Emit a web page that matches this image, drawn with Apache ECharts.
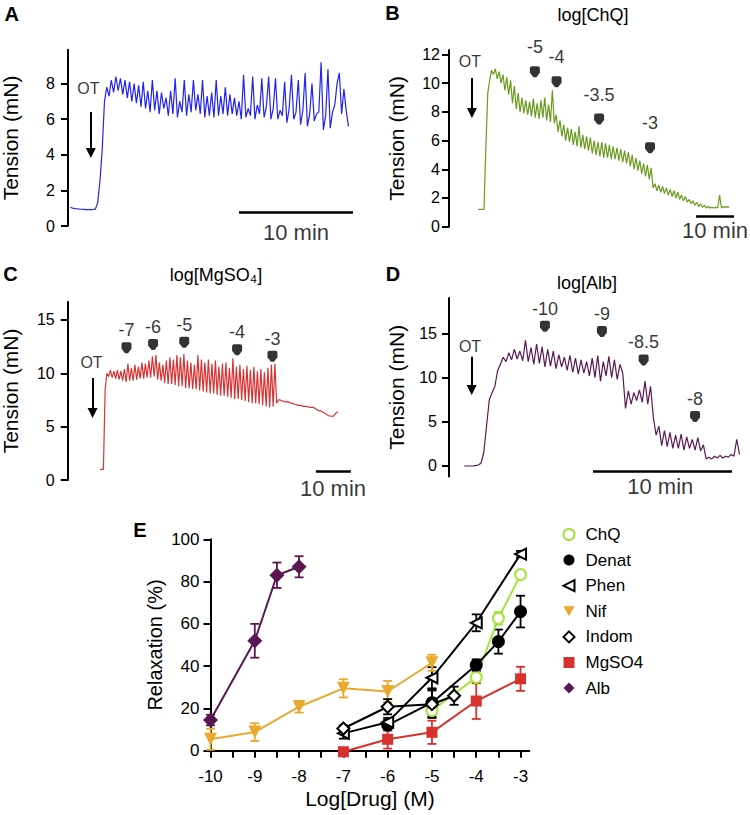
<!DOCTYPE html>
<html><head><meta charset="utf-8">
<script src="https://cdn.jsdelivr.net/npm/echarts@6/dist/echarts.min.js"></script>
<style>html,body{margin:0;padding:0;background:#fff}#c{width:750px;height:815px}</style>
</head><body><div id="c"></div>
<script>
// ---------- Panel traces (tension in mN, uniform time step in min) ----------
const stepA = 0.2;
const tensionA = [1.05,1.0,0.98,0.97,0.95,0.94,0.93,0.92,0.92,0.92,0.93,0.95,1.3,2.5,4.3,7.0,7.8,7.3,8.2,7.5,8.4,7.6,8.3,7.4,8.2,7.2,8.1,7.0,8.0,6.9,7.9,6.7,8.1,6.6,7.6,6.4,8.2,6.5,7.6,6.3,7.5,6.6,7.2,6.2,7.6,6.3,8.3,6.1,7.0,6.4,8.2,6.2,7.4,6.4,8.2,6.5,7.4,6.3,8.2,6.1,7.3,6.2,7.5,6.1,8.2,6.2,7.3,6.3,7.8,6.2,7.4,6.3,7.2,6.2,7.0,6.0,8.5,6.1,6.6,6.2,8.4,6.0,6.8,6.3,8.3,6.1,6.7,8.4,6.0,6.6,8.3,6.0,6.5,6.2,8.1,5.8,6.6,8.5,6.0,6.4,8.2,5.7,6.5,8.6,5.6,6.3,8.0,5.9,6.3,6.4,9.2,5.4,6.2,8.8,5.5,6.4,6.8,8.0,8.6,6.3,7.7,6.5,5.6];

const stepB = 0.5;
const tensionB = [1.2,1.2,1.2,1.2,5.5,9.3,10.2,10.9,10.6,11.0,10.3,10.8,10.0,10.6,9.5,10.4,9.2,10.2,8.6,9.8,8.2,9.3,8.0,9.0,7.9,8.8,7.8,8.7,7.7,8.9,7.6,8.6,7.5,8.8,7.6,9.0,7.4,8.5,7.3,9.5,7.2,7.8,6.6,7.4,6.3,7.1,6.0,6.9,5.9,6.8,5.7,6.6,5.6,7.0,5.5,6.4,5.4,6.3,5.3,6.2,5.1,6.0,5.0,5.9,4.9,5.9,4.8,5.8,4.8,5.7,4.7,5.6,4.7,5.5,4.6,5.4,4.5,5.3,4.4,5.2,4.2,5.0,4.0,4.8,3.9,4.6,3.7,4.4,3.5,4.3,3.3,4.1,2.7,3.0,2.5,2.9,2.4,2.8,2.3,2.7,2.2,2.6,2.1,2.5,2.0,2.4,1.9,2.2,1.8,2.1,1.7,1.9,1.6,1.8,1.5,1.7,1.4,1.6,1.35,1.5,1.3,1.4,1.3,1.35,1.3,1.35,1.3,2.2,1.3,1.4,1.35,1.4,1.35];

const stepC = 0.5;
const tensionC = [1.0,1.0,1.0,8.5,10.0,9.7,10.3,9.6,10.2,9.5,10.3,9.4,10.2,9.3,10.4,9.2,10.9,9.3,10.5,9.3,10.8,9.4,10.6,9.5,11.0,9.5,10.9,9.6,11.2,9.6,11.6,9.7,11.7,9.4,11.0,9.3,10.8,9.1,11.2,9.0,11.5,9.0,11.3,8.9,11.7,8.8,11.5,8.8,11.8,8.6,11.2,8.6,11.0,8.5,10.8,8.5,11.7,8.4,11.3,8.3,11.0,8.2,11.3,8.1,10.9,8.1,11.2,8.0,10.6,7.9,10.9,7.9,11.0,7.8,10.5,7.7,11.4,7.6,10.6,7.6,10.8,7.5,10.4,7.4,10.7,7.3,10.3,7.2,10.6,7.2,10.2,7.1,10.4,7.0,10.1,6.9,10.5,6.8,10.8,6.9,10.9,7.2,7.5,7.5,7.4,7.4,7.3,7.35,7.3,7.2,7.2,7.1,7.1,7.0,7.0,7.0,6.9,6.9,6.9,6.85,6.8,6.8,6.8,6.7,6.6,6.5,6.5,6.4,6.3,6.2,6.1,6.0,6.0,5.95,6.1,6.3,6.4];

const stepD = 0.2;
const tensionD = [0,0,0,0,0.05,0.1,0.3,1.5,4.5,7.5,8.3,9.0,10.8,11.5,12.3,11.8,12.8,12.0,13.2,12.1,13.0,11.9,14.2,11.8,13.4,11.5,13.8,11.6,13.5,11.2,13.2,11.3,13.0,11.0,12.6,11.2,12.3,10.8,12.5,10.6,12.2,10.4,12.0,10.5,11.8,10.2,12.2,10.0,12.5,9.6,11.8,10.2,12.4,10.0,12.0,9.8,11.5,10.5,6.5,8.5,7.0,8.3,7.4,8.6,7.2,9.6,7.0,9.0,5.5,3.5,4.5,2.3,4.0,2.2,3.8,2.0,3.5,2.0,3.6,1.8,3.3,2.0,3.0,1.8,3.2,1.7,2.4,0.8,1.0,0.8,1.1,0.9,1.2,0.9,1.1,1.0,1.3,1.1,3.0,1.3];

// ---------- Drug additions (log concentration labels, time in min, tension level) ----------
const concB = ['-5','-4','-3.5','-3'];
const timeB = [14.9,20.6,31.8,45.2];
const levelB = [10.8,10.1,7.5,5.5];
const concC = ['-7','-6','-5','-4','-3'];
const timeC = [7.6,15.2,24.1,39.2,49.3];
const levelC = [12.4,12.7,12.9,12.2,11.6];
const concD = ['-10','-9','-8.5','-8'];
const timeD = [5.8,9.9,12.9,16.6];
const levelD = [15.8,15.2,12.0,5.6];

// OT arrow: [time, from level, to level]; OT text [time, level]
const otArrowA = [1.8, 6.4, 4.1],  otTextA = [1.58, 7.7];
const otArrowB = [-1.66, 10.35, 7.92], otTextB = [-2.2, 11.5];
const otArrowC = [-2.1, 9.56, 6.28], otTextC = [-2.4, 11.0];
const otArrowD = [0.53, 12.36, 8.6], otTextD = [0.41, 13.5];
// 10-min scale bars: [start time, level]; label [time, level]
const barA = [14.8, 0.79], barTextA = [19.8, -0.34];
const barB = [57.3, 0.75], barTextB = [62.3, -0.23];
const barC = [61.7, 0.84], barTextC = [66.6, -0.75];
const barD = [9.26, -0.64], barTextD = [14.1, -2.34];
const barLength = 10;

// ---------- Panel E: concentration-response ----------
const xTickLabels = [-10,-9,-8,-7,-6,-5,-4,-3];
const yTickLabels = [0,20,40,60,80,100];
const chqX = [-5,-4,-3.5,-3],          chqMean = [19,34.7,62.6,83.3],          chqSem = [3.5,3,3,1.5];
const denatX = [-6,-5,-4,-3.5,-3],     denatMean = [12.1,22.7,40.5,51.6,65.8], denatSem = [2.5,6.5,2.7,5.7,7.5];
const phenX = [-7,-6,-5,-4,-3],        phenMean = [8.2,13.5,34.5,60.5,93],     phenSem = [2.5,2,5,4,1.5];
const nifX = [-10,-9,-8,-7,-6,-5],     nifMean = [5.4,8.8,20.8,29.5,28,41.6],  nifSem = [5,4.2,2.8,4.3,5,3.8];
const indomX = [-7,-6,-5,-4.5],        indomMean = [10.5,20.8,22,26],          indomSem = [1.5,3.6,6.5,4.3];
const mgX = [-7,-6,-5,-4,-3],          mgMean = [-0.5,5.4,8.7,23.5,34],        mgSem = [1,4.4,5.5,8.5,5.7];
const albX = [-10,-9,-8.5,-8],         albMean = [14.5,52,83,87],              albSem = [2.5,8,6,5];

// ---------- build ----------
const FONT = '"Liberation Sans", Arial, Helvetica, sans-serif';
const chart = echarts.init(document.getElementById('c'), null, {renderer: 'svg', width: 750, height: 815});

function trace(values, step) { return values.map((v, i) => [i * step, v]); }

function panelY(gi, min, max, ticks, gap, margin) {
  return {
    gridIndex: gi, type: 'value', min: min, max: max,
    axisLine: {show: true, onZero: false, lineStyle: {color: '#000', width: 2}},
    axisTick: {show: true, length: 7, customValues: ticks, lineStyle: {color: '#000', width: 2}},
    axisLabel: {show: true, customValues: ticks, fontSize: 16, color: '#000', margin: margin, fontFamily: FONT},
    splitLine: {show: false},
    name: 'Tension (mN)', nameLocation: 'middle', nameGap: gap,
    nameTextStyle: {fontSize: 21, color: '#000', fontFamily: FONT}
  };
}
function hiddenX(gi, min, max) {
  return {gridIndex: gi, type: 'value', min: min, max: max, show: false};
}

const traceColors = ['#2323F0', '#6A9B1E', '#D83434', '#5C1A52'];
const series = [];
[[tensionA, stepA], [tensionB, stepB], [tensionC, stepC], [tensionD, stepD]].forEach((p, i) => {
  series.push({type: 'line', xAxisIndex: i, yAxisIndex: i, data: trace(p[0], p[1]),
    symbol: 'none', showSymbol: false, lineStyle: {color: traceColors[i], width: 1.2},
    silent: true, z: 2, clip: false});
});

const markerPath = 'path://M2,0 L8,0 Q10,0 10,2 L10,6 L6.5,10 L3.5,10 L0,6 L0,2 Q0,0 2,0 Z';
[[1, concB, timeB, levelB, 10], [2, concC, timeC, levelC, 3], [3, concD, timeD, levelD, 3]].forEach(p => {
  series.push({type: 'scatter', xAxisIndex: p[0], yAxisIndex: p[0], symbol: markerPath,
    symbolSize: [10, 11], itemStyle: {color: '#000'}, silent: true, clip: false, z: 5,
    data: p[1].map((c, i) => ({name: c, value: [p[2][i], p[3][i]]})),
    label: {show: true, position: 'top', distance: p[4], formatter: '{b}', fontSize: 18, color: '#000', fontFamily: FONT}});
});

const arrows = [otArrowA, otArrowB, otArrowC, otArrowD];
const otTexts = [otTextA, otTextB, otTextC, otTextD];
const bars = [barA, barB, barC, barD];
const barTexts = [barTextA, barTextB, barTextC, barTextD];
for (let i = 0; i < 4; i++) {
  const a = arrows[i];
  series.push({type: 'lines', coordinateSystem: 'cartesian2d', xAxisIndex: i, yAxisIndex: i,
    data: [{coords: [[a[0], a[1]], [a[0], a[2]]]}], symbol: ['none', 'triangle'], symbolSize: 10,
    lineStyle: {color: '#000', width: 2, opacity: 1}, itemStyle: {color: '#000'}, silent: true, clip: false, z: 5});
  const b = bars[i];
  series.push({type: 'lines', coordinateSystem: 'cartesian2d', xAxisIndex: i, yAxisIndex: i,
    data: [{coords: [[b[0], b[1]], [b[0] + barLength, b[1]]]}], symbol: 'none',
    lineStyle: {color: '#000', width: 2.5, opacity: 1}, silent: true, clip: false, z: 5});
  series.push({type: 'scatter', xAxisIndex: i, yAxisIndex: i, symbolSize: 1, itemStyle: {color: 'rgba(0,0,0,0)'},
    silent: true, clip: false, z: 5,
    data: [
      {value: otTexts[i], label: {formatter: 'OT', fontSize: 16}},
      {value: barTexts[i], label: {formatter: '10 min', fontSize: 22}}
    ],
    label: {show: true, position: 'inside', color: '#000', fontFamily: FONT}});
}

const drugs = [
  {name: 'ChQ', x: chqX, m: chqMean, e: chqSem, color: '#A5E33B', symbol: 'emptyCircle', size: 11, rot: 0, bw: 2,
    icon: 'emptyCircle', iconStyle: null},
  {name: 'Denat', x: denatX, m: denatMean, e: denatSem, color: '#000000', symbol: 'circle', size: 13, rot: 0, bw: 0,
    icon: 'circle', iconStyle: null},
  {name: 'Phen', x: phenX, m: phenMean, e: phenSem, color: '#000000', symbol: 'emptyTriangle', size: 11, rot: 90, bw: 2,
    icon: 'path://M10,0 L10,10 L0,5 Z', iconStyle: {color: '#fff', borderColor: '#000', borderWidth: 2}},
  {name: 'Nif', x: nifX, m: nifMean, e: nifSem, color: '#E8A92E', symbol: 'triangle', size: 13, rot: 180, bw: 0,
    icon: 'path://M0,0 L10,0 L5,9 Z', iconStyle: {color: '#E8A92E', borderWidth: 0}},
  {name: 'Indom', x: indomX, m: indomMean, e: indomSem, color: '#000000', symbol: 'emptyDiamond', size: 12, rot: 0, bw: 2,
    icon: 'emptyDiamond', iconStyle: null},
  {name: 'MgSO4', x: mgX, m: mgMean, e: mgSem, color: '#D7312D', symbol: 'rect', size: 11, rot: 0, bw: 0,
    icon: 'rect', iconStyle: null},
  {name: 'Alb', x: albX, m: albMean, e: albSem, color: '#5A1650', symbol: 'diamond', size: 15, rot: 0, bw: 0,
    icon: 'diamond', iconStyle: null}
];

function errRender(params, api) {
  const x = api.value(0), lo = api.value(1), hi = api.value(2);
  const p1 = api.coord([x, hi]), p2 = api.coord([x, lo]);
  const w = 4.5;
  const style = {stroke: api.visual('color'), lineWidth: 1.8, fill: null};
  return {type: 'group', children: [
    {type: 'line', shape: {x1: p1[0], y1: p1[1], x2: p2[0], y2: p2[1]}, style: style},
    {type: 'line', shape: {x1: p1[0] - w, y1: p1[1], x2: p1[0] + w, y2: p1[1]}, style: style},
    {type: 'line', shape: {x1: p2[0] - w, y1: p2[1], x2: p2[0] + w, y2: p2[1]}, style: style}
  ]};
}

drugs.forEach(d => {
  series.push({type: 'custom', name: d.name + ' SEM', xAxisIndex: 4, yAxisIndex: 4, renderItem: errRender,
    itemStyle: {color: d.color}, silent: true, clip: false, z: 3,
    data: d.x.map((x, i) => [x, d.m[i] - d.e[i], d.m[i] + d.e[i]])});
  series.push({type: 'line', name: d.name, xAxisIndex: 4, yAxisIndex: 4,
    data: d.x.map((x, i) => [x, d.m[i]]),
    symbol: d.symbol, symbolSize: d.size, symbolRotate: d.rot, showSymbol: true,
    lineStyle: {color: d.color, width: 2}, itemStyle: {color: d.color, borderColor: d.color, borderWidth: d.bw},
    silent: true, clip: false, z: 4});
});

const option = {
  animation: false,
  textStyle: {fontFamily: FONT},
  grid: [
    {left: 68, top: 49.8, width: 287.3, height: 176.2, outerBoundsMode: 'none', containLabel: false},
    {left: 449, top: 50.1, width: 287.7, height: 176.6, outerBoundsMode: 'none', containLabel: false},
    {left: 67.7, top: 301.8, width: 284.2, height: 178.2, outerBoundsMode: 'none', containLabel: false},
    {left: 449, top: 298, width: 293.3, height: 178.6, outerBoundsMode: 'none', containLabel: false},
    {left: 210.5, top: 539.3, width: 318.9, height: 211.4, outerBoundsMode: 'none', containLabel: false}
  ],
  xAxis: [
    hiddenX(0, -0.2, 25), hiddenX(1, -7.7, 68), hiddenX(2, -9.2, 72), hiddenX(3, -1.1, 20),
    {gridIndex: 4, type: 'value', min: -10, max: -2.8,
      axisLine: {show: true, onZero: false, lineStyle: {color: '#000', width: 2}},
      axisTick: {show: true, length: 7, customValues: [-10,-9.5,-9,-8.5,-8,-7.5,-7,-6.5,-6,-5.5,-5,-4.5,-4,-3.5,-3], lineStyle: {color: '#000', width: 2}},
      axisLabel: {show: true, customValues: xTickLabels, fontSize: 17, color: '#000', margin: 17},
      splitLine: {show: false},
      name: 'Log[Drug] (M)', nameLocation: 'middle', nameGap: 37,
      nameTextStyle: {fontSize: 21, color: '#000'}}
  ],
  yAxis: [
    panelY(0, 0, 9.9, [0,2,4,6,8], 47, 13),
    panelY(1, 0, 12.3, [0,2,4,6,8,10,12], 42, 9),
    panelY(2, 0, 16.7, [0,5,10,15], 47, 13),
    panelY(3, -1.2, 19, [0,5,10,15], 42, 12),
    {gridIndex: 4, type: 'value', min: 0, max: 100,
      axisLine: {show: true, onZero: false, lineStyle: {color: '#000', width: 2}},
      axisTick: {show: true, length: 7, customValues: yTickLabels, lineStyle: {color: '#000', width: 2}},
      axisLabel: {show: true, customValues: yTickLabels, fontSize: 17, color: '#000', margin: 11},
      splitLine: {show: false},
      name: 'Relaxation (%)', nameLocation: 'middle', nameGap: 46,
      nameTextStyle: {fontSize: 20, color: '#000'}}
  ],
  legend: {
    orient: 'vertical', left: 562.5, top: 526, itemWidth: 11, itemHeight: 11, itemGap: 8.6,
    selectedMode: false, padding: 0, symbolKeepAspect: true,
    textStyle: {fontSize: 17, color: '#000', padding: [0, 0, 0, 6]},
    data: drugs.map(d => d.iconStyle ? {name: d.name, icon: d.icon, itemStyle: d.iconStyle} : {name: d.name, icon: d.icon})
  },
  graphic: [
    {type: 'text', x: 11.7, y: 13.7, style: {text: 'A', font: 'bold 20px ' + FONT, fill: '#000', align: 'center', verticalAlign: 'middle', textAlign: 'center', textVerticalAlign: 'middle'}},
    {type: 'text', x: 392.5, y: 12.5, style: {text: 'B', font: 'bold 20px ' + FONT, fill: '#000', align: 'center', verticalAlign: 'middle', textAlign: 'center', textVerticalAlign: 'middle'}},
    {type: 'text', x: 10.5, y: 274, style: {text: 'C', font: 'bold 20px ' + FONT, fill: '#000', align: 'center', verticalAlign: 'middle', textAlign: 'center', textVerticalAlign: 'middle'}},
    {type: 'text', x: 393, y: 274, style: {text: 'D', font: 'bold 20px ' + FONT, fill: '#000', align: 'center', verticalAlign: 'middle', textAlign: 'center', textVerticalAlign: 'middle'}},
    {type: 'text', x: 140, y: 530, style: {text: 'E', font: 'bold 20px ' + FONT, fill: '#000', align: 'center', verticalAlign: 'middle', textAlign: 'center', textVerticalAlign: 'middle'}},
    {type: 'text', x: 593, y: 15, style: {text: 'log[ChQ]', font: '18px ' + FONT, fill: '#000', align: 'center', verticalAlign: 'middle', textAlign: 'center', textVerticalAlign: 'middle'}},
    {type: 'text', x: 216, y: 275, style: {text: 'log[MgSO\u2084]', font: '18px ' + FONT, fill: '#000', align: 'center', verticalAlign: 'middle', textAlign: 'center', textVerticalAlign: 'middle'}},
    {type: 'text', x: 587, y: 283, style: {text: 'log[Alb]', font: '18px ' + FONT, fill: '#000', align: 'center', verticalAlign: 'middle', textAlign: 'center', textVerticalAlign: 'middle'}}
  ],
  series: series
};
chart.setOption(option);
</script>
</body></html>
